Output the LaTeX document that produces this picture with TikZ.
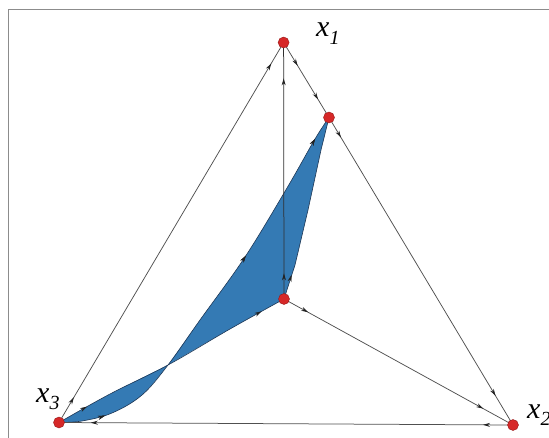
\documentclass[tikz,border=0pt]{standalone}
\usepackage{fontspec}
\setmainfont{Liberation Serif}
\usetikzlibrary{arrows.meta,decorations.markings}
\definecolor{edgegray}{RGB}{80,80,80}
\definecolor{framegray}{RGB}{140,140,140}
\definecolor{dotred}{RGB}{214,40,40}
\definecolor{dotrim}{RGB}{150,25,25}
\definecolor{bluefill}{RGB}{52,122,180}
\definecolor{blueline}{RGB}{30,55,85}
\definecolor{tipcol}{RGB}{35,35,35}
\tikzset{
  edge/.style={draw=edgegray,line width=0.75pt},
  bedge/.style={draw=blueline,line width=0.6pt},
  twoarrows/.style 2 args={postaction={decorate},decoration={markings,
     mark=at position #1 with {\arrow[tipcol]{Stealth[length=7pt,width=4pt]}},
     mark=at position #2 with {\arrow[tipcol]{Stealth[length=7pt,width=4pt]}}}},
  onearrow/.style={postaction={decorate},decoration={markings,
     mark=at position #1 with {\arrow[tipcol]{Stealth[length=7pt,width=4pt]}}}},
  vertex/.style={circle,fill=dotred,draw=dotrim,line width=0.4pt,inner sep=0pt,minimum size=11pt},
  lbl/.style={font=\fontsize{30}{32}\selectfont\itshape,inner sep=0pt,anchor=base west},
}
\newcommand{\subidx}[1]{\raisebox{-0.25em}{\fontsize{20}{20}\selectfont #1}}
\begin{document}
\begin{tikzpicture}[x=1pt,y=-1pt]
\useasboundingbox (0,0) rectangle (549,438);
% frame
\draw[framegray,line width=0.9pt] (8.5,438) -- (8.5,9.5) -- (549,9.5);

% points
\coordinate (x1) at (283.6,42.5);
\coordinate (x2) at (513,425);
\coordinate (x3) at (59,422.5);
\coordinate (P) at (329,117.5);
\coordinate (C) at (284,299);
\coordinate (X) at (168,365);

% blue region fill
\fill[bluefill]
  plot[smooth,tension=0.6] coordinates {(329,117.5) (315,139) (287,188) (245,257) (200,320) (168,365)}
  -- plot[smooth,tension=0.6] coordinates {(168,365) (230,329) (284,299)}
  -- (295,265) -- (308,210) -- (321,150) -- (329,117.5) -- cycle;
\fill[bluefill]
  plot[smooth,tension=0.6] coordinates {(168,365) (110,394) (59,422.5)}
  -- plot[smooth,tension=0.6] coordinates {(59,422.5) (82,421) (112,413) (142,395) (168,365)} -- cycle;

% blue boundary curves
\draw[bedge,twoarrows={0.11}{0.62},onearrow=0.94]
  plot[smooth,tension=0.6] coordinates {(59,422.5) (82,421) (112,413) (142,395) (168,365) (200,320) (245,257) (287,188) (315,139) (329,117.5)};
\draw[bedge,twoarrows={0.125}{0.9}]
  plot[smooth,tension=0.6] coordinates {(59,422.5) (110,394) (168,365) (230,329) (284,299)};
\draw[bedge,line join=round] (C) -- (295,265) -- (308,210) -- (321,150) -- (P);
\path[onearrow=0.5] (290,280) -- (293,270);

% edges
\draw[edge,twoarrows={0.066}{0.945}] (x3) -- (x1);
\draw[edge,twoarrows={0.31}{0.76}] (x1) -- (P);
\draw[edge,twoarrows={0.065}{0.905}] (P) -- (x2);
\draw[edge,twoarrows={0.105}{0.87}] (C) -- (x2);
\draw[edge,twoarrows={0.066}{0.93}] (x2) -- (x3);
\draw[edge,draw=edgegray!60!black,twoarrows={0.1}{0.86}] (C) -- (x1);

% vertices
\node[vertex] (v1) at (x1) {};
\node[vertex] (v2) at (x2) {};
\node[vertex] (v3) at (x3) {};
\node[vertex] (vP) at (P) {};
\node[vertex] (vC) at (C) {};

% labels
\node[lbl] (l1) at (316,37) {x\subidx{1}};
\node[lbl] (l2) at (527,418) {x\subidx{2}};
\node[lbl] (l3) at (36,402) {x\subidx{3}};
\end{tikzpicture}
\end{document}
